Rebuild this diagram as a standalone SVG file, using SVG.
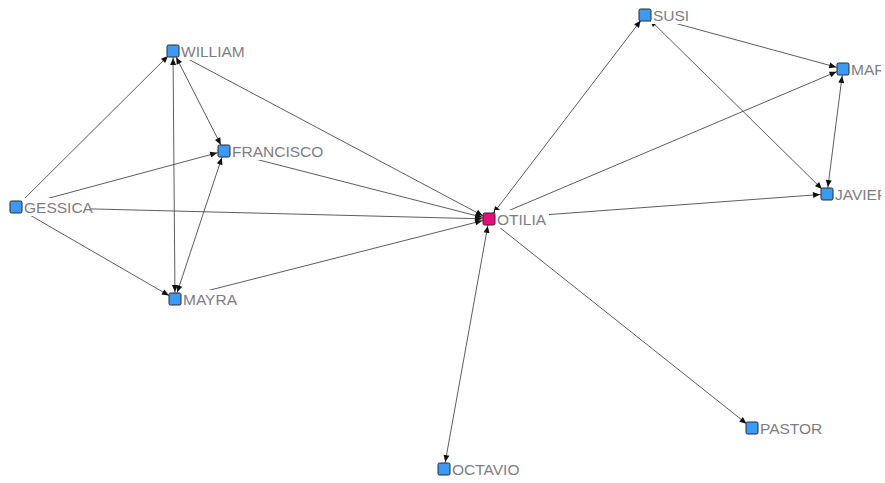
<svg xmlns="http://www.w3.org/2000/svg" width="885" height="483" viewBox="0 0 885 483">
  <style>
    .edge { stroke: #333; stroke-width: 0.8; fill: none; }
    .lblbg { fill: #fff; }
    .lbl { font-family: "Liberation Sans", Arial, sans-serif; font-size: 15.5px; fill: #7d7d85; }
    .sq { fill: #3a9af5; stroke: #2a2a2a; stroke-width: 1; }
    .ego { fill: #ea0a7c; stroke: #2a2a2a; stroke-width: 1; }
  </style>
  <defs>
    <marker id="ah" viewBox="0 0 7 6" refX="14" refY="3" markerWidth="7" markerHeight="6" markerUnits="userSpaceOnUse" orient="auto-start-reverse" overflow="visible">
      <path d="M0,0 L7,3 L0,6 z" fill="#111"/>
    </marker>
    <!-- drawing area ends a few pixels short of the right border -->
    <clipPath id="area">
      <rect x="0" y="0" width="881" height="483"/>
    </clipPath>
  </defs>
  <rect width="885" height="483" fill="#fff"/>

  <g id="connectors">
    <!-- one-way ties -->
    <line class="edge" x1="16" y1="207" x2="173" y2="51" marker-end="url(#ah)"/>
    <line class="edge" x1="16" y1="207" x2="224" y2="151" marker-end="url(#ah)"/>
    <line class="edge" x1="16" y1="207" x2="489" y2="219" marker-end="url(#ah)"/>
    <line class="edge" x1="16" y1="207" x2="175" y2="299" marker-end="url(#ah)"/>
    <line class="edge" x1="173" y1="51" x2="489" y2="219" marker-end="url(#ah)"/>
    <line class="edge" x1="224" y1="151" x2="489" y2="219" marker-end="url(#ah)"/>
    <line class="edge" x1="175" y1="299" x2="489" y2="219" marker-end="url(#ah)"/>
    <line class="edge" x1="489" y1="219" x2="843" y2="69" marker-end="url(#ah)"/>
    <line class="edge" x1="489" y1="219" x2="827" y2="194" marker-end="url(#ah)"/>
    <line class="edge" x1="489" y1="219" x2="752" y2="428" marker-end="url(#ah)"/>
    <line class="edge" x1="645" y1="15" x2="843" y2="69" marker-end="url(#ah)"/>
    <!-- mutual ties -->
    <line class="edge" x1="173" y1="51" x2="224" y2="151" marker-start="url(#ah)" marker-end="url(#ah)"/>
    <line class="edge" x1="173" y1="51" x2="175" y2="299" marker-start="url(#ah)" marker-end="url(#ah)"/>
    <line class="edge" x1="224" y1="151" x2="175" y2="299" marker-start="url(#ah)" marker-end="url(#ah)"/>
    <line class="edge" x1="489" y1="219" x2="645" y2="15" marker-start="url(#ah)" marker-end="url(#ah)"/>
    <line class="edge" x1="489" y1="219" x2="444" y2="469" marker-start="url(#ah)" marker-end="url(#ah)"/>
    <line class="edge" x1="645" y1="15" x2="827" y2="194" marker-start="url(#ah)" marker-end="url(#ah)"/>
    <line class="edge" x1="843" y1="69" x2="827" y2="194" marker-start="url(#ah)" marker-end="url(#ah)"/>
  </g>

  <g clip-path="url(#area)">
    <g id="node-william">
      <rect class="lblbg" x="179" y="42" width="68" height="18"/>
      <text class="lbl" x="181" y="56.5">WILLIAM</text>
      <rect class="sq" x="167" y="45" width="12" height="12" rx="1.5"/>
    </g>
    <g id="node-francisco">
      <rect class="lblbg" x="230" y="142" width="90" height="18"/>
      <text class="lbl" x="232" y="156.5">FRANCISCO</text>
      <rect class="sq" x="218" y="145" width="12" height="12" rx="1.5"/>
    </g>
    <g id="node-gessica">
      <rect class="lblbg" x="22" y="198" width="69" height="18"/>
      <text class="lbl" x="24" y="212.5">GESSICA</text>
      <rect class="sq" x="10" y="201" width="12" height="12" rx="1.5"/>
    </g>
    <g id="node-mayra">
      <rect class="lblbg" x="181" y="290" width="56" height="18"/>
      <text class="lbl" x="183" y="304.5">MAYRA</text>
      <rect class="sq" x="169" y="293" width="12" height="12" rx="1.5"/>
    </g>
    <g id="node-otilia">
      <rect class="lblbg" x="495" y="210" width="54" height="18"/>
      <text class="lbl" x="497" y="224.5">OTILIA</text>
      <rect class="ego" x="483" y="213" width="12" height="12" rx="1.5"/>
    </g>
    <g id="node-susi">
      <rect class="lblbg" x="651" y="6" width="38" height="18"/>
      <text class="lbl" x="653" y="20.5">SUSI</text>
      <rect class="sq" x="639" y="9" width="12" height="12" rx="1.5"/>
    </g>
    <g id="node-mar">
      <rect class="lblbg" x="849" y="60" width="36" height="18"/>
      <text class="lbl" x="851" y="74.5">MAR</text>
      <rect class="sq" x="837" y="63" width="12" height="12" rx="1.5"/>
    </g>
    <g id="node-javier">
      <rect class="lblbg" x="833" y="185" width="52" height="18"/>
      <text class="lbl" x="835" y="199.5">JAVIER</text>
      <rect class="sq" x="821" y="188" width="12" height="12" rx="1.5"/>
    </g>
    <g id="node-pastor">
      <rect class="lblbg" x="758" y="419" width="64" height="18"/>
      <text class="lbl" x="760" y="433.5">PASTOR</text>
      <rect class="sq" x="746" y="422" width="12" height="12" rx="1.5"/>
    </g>
    <g id="node-octavio">
      <rect class="lblbg" x="450" y="460" width="70" height="18"/>
      <text class="lbl" x="452" y="474.5">OCTAVIO</text>
      <rect class="sq" x="438" y="463" width="12" height="12" rx="1.5"/>
    </g>
  </g>
</svg>
